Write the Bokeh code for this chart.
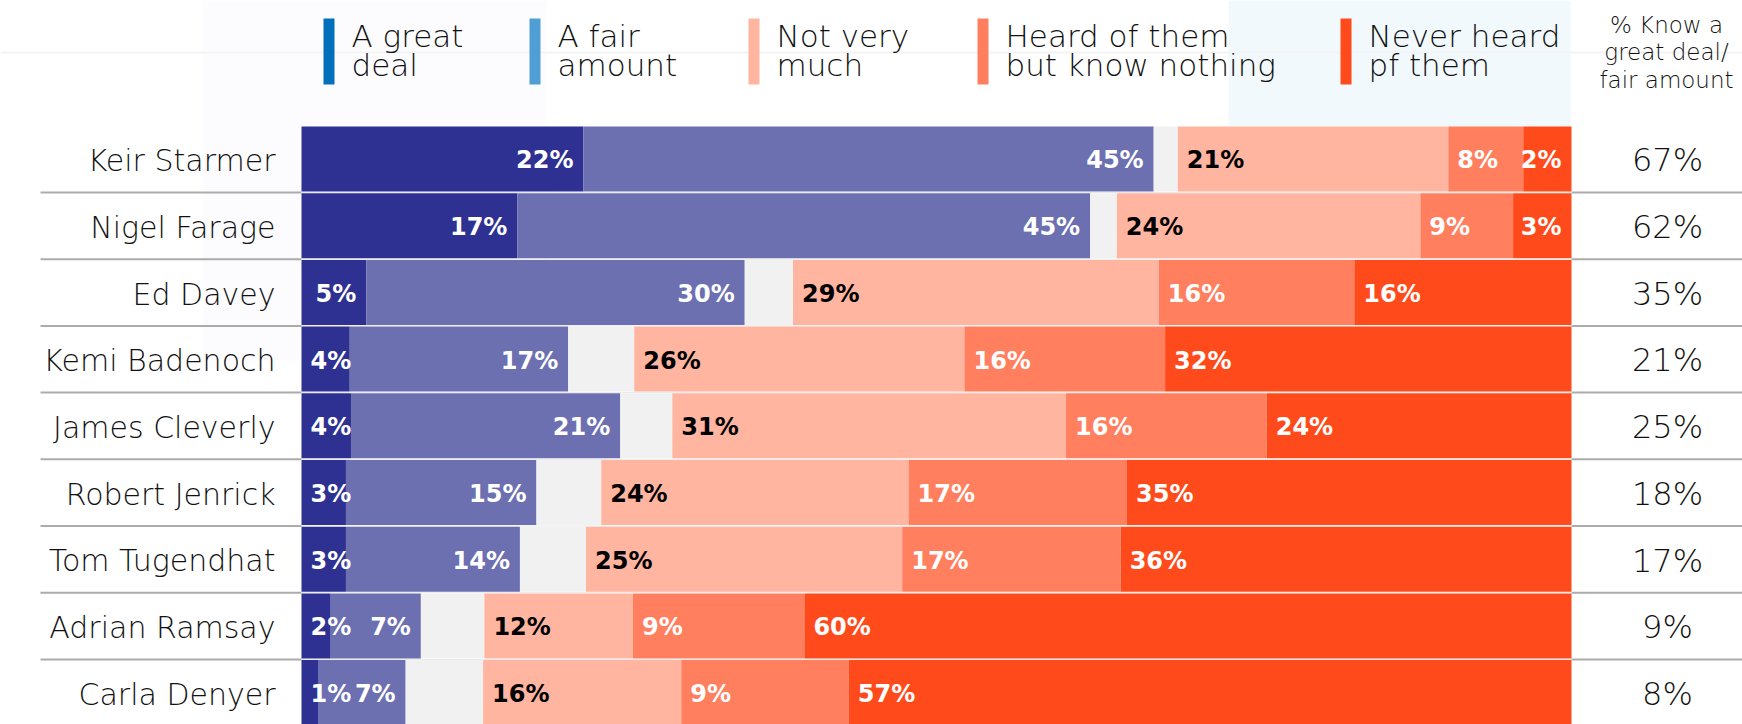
from bokeh.plotting import figure
from bokeh.models import Range1d, ColumnDataSource
from bokeh.core.properties import value
from bokeh.embed import file_html
from bokeh.resources import INLINE

# ---------------- data ----------------
names = ["Keir Starmer", "Nigel Farage", "Ed Davey", "Kemi Badenoch", "James Cleverly",
         "Robert Jenrick", "Tom Tugendhat", "Adrian Ramsay", "Carla Denyer"]

# segment widths as drawn (% of bar)
great_deal    = [22.2, 17.0, 5.1, 3.8, 3.9, 3.5, 3.5, 2.3, 1.3]
fair_amount   = [44.9, 45.1, 29.8, 17.2, 21.2, 15.0, 13.7, 7.1, 6.9]
dont_know     = [1.9, 2.1, 3.8, 5.2, 4.1, 5.1, 5.2, 5.0, 6.1]
not_very_much = [21.3, 23.9, 28.8, 26.0, 31.0, 24.2, 24.9, 11.7, 15.6]
heard_nothing = [5.9, 7.3, 15.4, 15.8, 15.8, 17.2, 17.2, 13.5, 13.2]
never_heard   = [3.8, 4.6, 17.1, 32.0, 24.0, 35.0, 35.5, 60.4, 56.9]

# printed labels
great_deal_lbl    = [22, 17, 5, 4, 4, 3, 3, 2, 1]
fair_amount_lbl   = [45, 45, 30, 17, 21, 15, 14, 7, 7]
not_very_much_lbl = [21, 24, 29, 26, 31, 24, 25, 12, 16]
heard_nothing_lbl = [8, 9, 16, 16, 16, 17, 17, 9, 9]
never_heard_lbl   = [2, 3, 16, 32, 24, 35, 36, 60, 57]
know_total        = [67, 62, 35, 21, 25, 18, 17, 9, 8]

legend_labels = [["A great", "deal"], ["A fair", "amount"], ["Not very", "much"],
                 ["Heard of them", "but know nothing"], ["Never heard", "pf them"]]
header_lines = ["% Know a", "great deal/", "fair amount"]

bar_colors = ["#2E3192", "#6C70B1", "#F1F1F1", "#FFB5A0", "#FF7F5F", "#FF4B1B"]
legend_colors = ["#0070BB", "#4F9FD5", "#FFB5A0", "#FF7F5F", "#FF4B1B"]

# ---------------- layout helpers (page pixels -> data) ----------------
W, H = 1742, 724
PX_PER_PCT = 12.7
BAR_X0 = 301
ROW_PITCH = 66.7
ROW0_CENTER = 158.5
BASE_FIX = 0.42   # baseline correction as a fraction of font size


def xp(page_x):
    return (page_x - BAR_X0) / PX_PER_PCT


def yp(page_y):
    return (page_y - ROW0_CENTER) / ROW_PITCH


p = figure(width=W, height=H, output_backend="svg", toolbar_location=None,
           x_range=Range1d(xp(0), xp(W)), y_range=Range1d(yp(H), yp(0)),
           x_axis_type=None, y_axis_type=None, min_border=0,
           outline_line_color=None, background_fill_color="white",
           border_fill_color="white")
p.grid.visible = False

FONT = value("DejaVu Sans")


def light_text(xs, page_ys, texts, size, align, weight="200", color="#111111"):
    ys = [yp(py - BASE_FIX * size) for py in page_ys]
    src = ColumnDataSource(dict(x=xs, y=ys, text=texts,
                                fs=[f"{weight} {size}px"] * len(texts)))
    p.text(x="x", y="y", text="text", source=src, text_font=FONT,
           text_font_size="fs", text_align=align, text_baseline="alphabetic",
           text_color=color)


# faint page decorations
p.quad(left=[xp(203)], right=[xp(546)], top=[yp(0)], bottom=[yp(360)],
       fill_color="#FCFBFE", line_color=None)
p.quad(left=[xp(1228)], right=[xp(1570)], top=[yp(0)], bottom=[yp(126)],
       fill_color="#F2F9FC", line_color=None)
p.segment(x0=[xp(0)], x1=[xp(1742)], y0=[yp(52)], y1=[yp(52)],
          line_color="#F4F4F4", line_width=2)

# row separators
n = len(names)
sep_y = [i + (192 - ROW0_CENTER) / ROW_PITCH for i in range(n - 1)]
p.segment(x0=[xp(40)] * (n - 1), x1=[0] * (n - 1), y0=sep_y, y1=sep_y,
          line_color="#ABABAB", line_width=2)
p.segment(x0=[100] * (n - 1), x1=[xp(1742)] * (n - 1), y0=sep_y, y1=sep_y,
          line_color="#ABABAB", line_width=2)
p.segment(x0=[0] * (n - 1), x1=[100] * (n - 1), y0=sep_y, y1=sep_y,
          line_color="#E8E8E8", line_width=1)

# stacked bars
series = [great_deal, fair_amount, dont_know, not_very_much, heard_nothing, never_heard]
labels = [great_deal_lbl, fair_amount_lbl, None, not_very_much_lbl, heard_nothing_lbl, never_heard_lbl]
rows = list(range(n))
bar_h = 65 / ROW_PITCH
lefts = [0.0] * n

LBL_SIZE = 24
lab_left = dict(x=[], y=[], text=[], color=[])
lab_right = dict(x=[], y=[], text=[], color=[])
lab_dy = (170 - BASE_FIX * LBL_SIZE - ROW0_CENTER) / ROW_PITCH

for k, vals in enumerate(series):
    rights = [l + v for l, v in zip(lefts, vals)]
    p.hbar(y=rows, left=lefts, right=rights, height=bar_h,
           fill_color=bar_colors[k], line_color=None)
    if labels[k] is not None:
        col = "black" if k == 3 else "white"
        for i in range(n):
            wpx = vals[i] * PX_PER_PCT
            if k < 2:
                right_side = wpx >= 55
            else:
                right_side = wpx < 60
            if right_side:
                tgt = lab_right
                tgt["x"].append(rights[i] - 10 / PX_PER_PCT)
            else:
                tgt = lab_left
                tgt["x"].append(lefts[i] + 9 / PX_PER_PCT)
            tgt["y"].append(i + lab_dy)
            tgt["text"].append(f"{labels[k][i]}%")
            tgt["color"].append(col)
    lefts = rights

for src, align in ((lab_left, "left"), (lab_right, "right")):
    p.text(x="x", y="y", text="text", text_color="color", source=ColumnDataSource(src),
           text_align=align, text_baseline="alphabetic",
           text_font=FONT, text_font_style="bold", text_font_size=f"{LBL_SIZE}px")

# row names
light_text([xp(275)] * n, [126 + 46.7 + ROW_PITCH * i for i in rows], names, 30, "right")

# right column totals
light_text([xp(1667)] * n, [126 + 47.3 + ROW_PITCH * i for i in rows],
           [f"{v}%" for v in know_total], 32, "center")

# header
light_text([xp(1666)] * 3, [34 + 27.5 * j for j in range(3)], header_lines, 23, "center")

# legend
sw_x = [323, 529, 748, 977, 1340]
p.quad(left=[xp(s) for s in sw_x], right=[xp(s + 11) for s in sw_x],
       top=[yp(18)] * 5, bottom=[yp(84)] * 5, fill_color=legend_colors, line_color=None)
lx, ly, lt = [], [], []
for s, lines in zip(sw_x, legend_labels):
    for j, line in enumerate(lines):
        lx.append(xp(s + 28))
        ly.append(48.3 + 29 * j)
        lt.append(line)
light_text(lx, ly, lt, 31, "left")

open("out.html", "w").write(file_html(p, INLINE))
